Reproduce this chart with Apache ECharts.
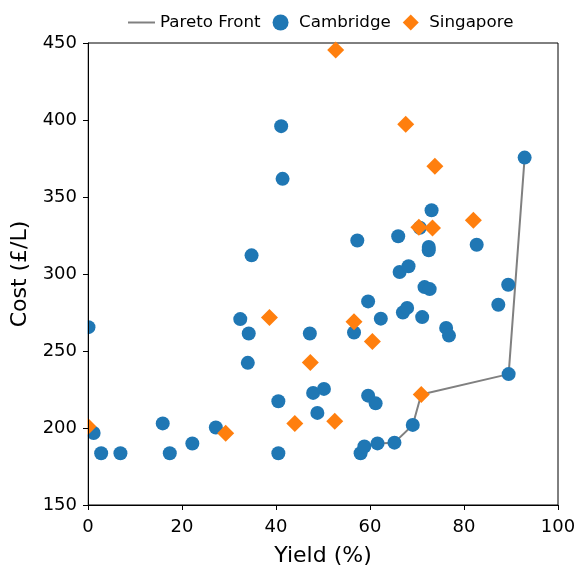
<!DOCTYPE html>
<html>
<head>
<meta charset="utf-8">
<script src="https://cdn.jsdelivr.net/npm/echarts@6/dist/echarts.min.js"></script>
<style>html,body{margin:0;padding:0;background:#fff}#c{width:577px;height:570px}</style>
</head>
<body>
<div id="c"></div>
<script>
// Data
const cambridgeYield = [0.1,1.2,2.8,6.9,15.9,17.4,22.2,27.2,32.4,34.2,34.0,34.8,41.1,41.4,40.5,40.5,47.2,47.9,50.2,48.8,57.3,56.6,59.6,62.3,59.6,61.2,58.0,58.8,61.6,65.2,69.1,89.5,87.3,89.4,76.2,76.8,67.0,67.9,71.1,71.6,72.7,66.3,68.2,72.5,72.5,82.7,73.1,66.0,70.6,92.9];
const cambridgeCost  = [265.5,196.8,183.6,183.6,203,183.6,189.9,200.3,270.7,261.4,242.3,312.1,396,361.8,217.4,183.6,261.4,222.8,225.4,209.8,321.8,262,282.2,271,221,216,183.6,188,190,190.5,202,235,280,293,265,260,275,278,272,291.5,290.2,301.3,305,317.6,315.4,319,341.4,324.5,330,375.6];
const singaporeYield = [0.0,29.3,38.6,44.0,47.3,52.5,52.7,56.6,60.5,67.6,73.8,70.4,73.3,82.0,70.9];
const singaporeCost  = [201,196.6,271.8,203,242.5,204.4,445.4,269,256.2,397.3,370,330.3,329.9,334.9,221.7];
const paretoYield = [58.0,58.8,61.6,65.2,69.1,70.9,89.5,92.9];
const paretoCost  = [183.6,188,190,190.5,202,221.7,235,375.6];
const xTicks = {min:0, max:100, interval:20};
const yTicks = {min:150, max:450, interval:50};

const zip = (a,b) => a.map((v,i)=>[v,b[i]]);
const font = 'DejaVu Sans';
const chart = echarts.init(document.getElementById('c'), null, {renderer:'canvas'});
chart.setOption({
  animation:false,
  backgroundColor:'#fff',
  textStyle:{fontFamily:font},
  grid:{left:88,right:19,top:43,bottom:65,show:true,borderColor:'#000',borderWidth:1,backgroundColor:'transparent',
        containLabel:false, outerBoundsMode:'none'},
  legend:{
    left:123, top:9, itemWidth:27, itemHeight:16, itemGap:12,
    textStyle:{fontFamily:font,fontSize:16.7,color:'#000'},
    data:[
      {name:'Pareto Front', icon:'path://M0,0 L27,0 L27,2 L0,2 Z'},
      {name:'Cambridge', icon:'circle'},
      {name:'Singapore', icon:'path://M9,0 L18,9 L9,18 L0,9 Z'}
    ]
  },
  xAxis:{
    type:'value', min:xTicks.min, max:xTicks.max, interval:xTicks.interval,
    name:'Yield (%)', nameLocation:'middle', nameGap:40,
    nameTextStyle:{fontFamily:font,fontSize:22,color:'#000'},
    axisLine:{show:true,onZero:false,lineStyle:{color:'#000',width:1}},
    axisTick:{show:true,inside:false,length:5,lineStyle:{color:'#000'}},
    axisLabel:{fontFamily:font,fontSize:18,color:'#000',margin:13},
    splitLine:{show:false}, z:10
  },
  yAxis:{
    type:'value', min:yTicks.min, max:yTicks.max, interval:yTicks.interval,
    name:'Cost (£/L)', nameLocation:'middle', nameGap:46, nameRotate:90,
    nameTextStyle:{fontFamily:font,fontSize:22,color:'#000'},
    axisLine:{show:true,onZero:false,lineStyle:{color:'#000',width:1}},
    axisTick:{show:true,inside:false,length:5,lineStyle:{color:'#000'}},
    axisLabel:{fontFamily:font,fontSize:18,color:'#000',margin:11},
    splitLine:{show:false}, z:10
  },
  graphic:[{type:'rect',z:5,silent:true,shape:{x:0,y:30,width:87.5,height:476},style:{fill:'#fff'}}],
  series:[
    {name:'Pareto Front',type:'line',symbol:'none',data:zip(paretoYield,paretoCost),
     lineStyle:{color:'#808080',width:2},itemStyle:{color:'#808080'},z:2},
    {name:'Cambridge',type:'scatter',symbol:'circle',symbolSize:14,data:zip(cambridgeYield,cambridgeCost),
     itemStyle:{color:'#1f77b4',opacity:1},z:3},
    {name:'Singapore',type:'scatter',symbol:'diamond',symbolSize:17,data:zip(singaporeYield,singaporeCost),
     itemStyle:{color:'#ff7f0e',opacity:1},z:4}
  ]
});
</script>
</body>
</html>
